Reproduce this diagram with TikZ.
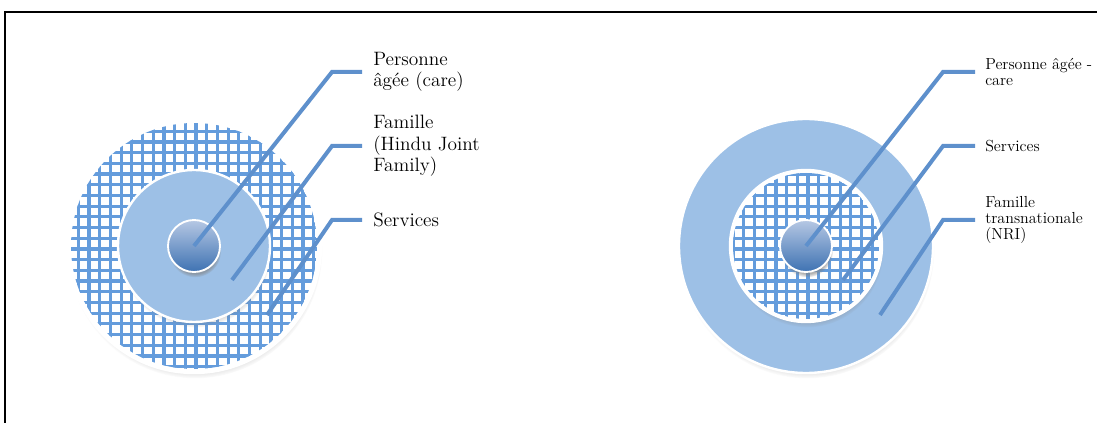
\documentclass[tikz,border=0pt]{standalone}
\usetikzlibrary{shadows,positioning,calc}
\definecolor{ringblue}{RGB}{157,192,230}
\definecolor{gridblue}{RGB}{100,156,220}
\definecolor{leadblue}{RGB}{94,144,204}
\definecolor{coretop}{RGB}{182,200,228}
\definecolor{corebot}{RGB}{62,114,178}
\newcommand{\bigtxt}{\fontsize{14.5}{16}\selectfont}
\newcommand{\smalltxt}{\fontsize{12}{12.2}\selectfont}
% grid of lines clipped to a disc: centre, radius (px)
\newcommand{\hatchdisc}[2]{%
  \begin{scope}
    \clip (#1) circle[radius=#2];
    \foreach \k in {-12,...,12}{
      \draw[gridblue,line width=2.4pt] ($(#1)+(\k*10.7+2,-#2)$) -- ($(#1)+(\k*10.7+2,#2)$);
      \draw[gridblue,line width=2.4pt] ($(#1)+(-#2,\k*10.7+3)$) -- ($(#1)+(#2,\k*10.7+3)$);}
  \end{scope}}
\begin{document}
\begin{tikzpicture}[x=0.75pt,y=-0.75pt,
  ring/.style={circle,draw=white,line width=1.8pt,inner sep=0pt},
  shade/.style={circular drop shadow={shadow xshift=0.8pt,shadow yshift=-4pt,opacity=0.6,shadow scale=1.0}},
  plain/.style={ring,fill=ringblue},
  blank/.style={ring,fill=white},
  core/.style={circle,draw=white,line width=1.4pt,inner sep=0pt,
    top color=coretop,bottom color=corebot,minimum size=39pt},
  lead/.style={leadblue,line width=3pt},
  lbl/.style={anchor=west,align=left,inner sep=0pt}]
\useasboundingbox (0,0) rectangle (1097,423);
% frame
\draw[line width=1.5pt] (5,423) -- (5,12) -- (1097,12);
% LEFT: hindu joint family
\node[blank,shade,minimum size=190.5pt] (lout) at (194,246) {};
\hatchdisc{lout.center}{123}
\node[plain,shade,minimum size=114pt] (lmid) at (194,246) {};
\node[core,shade] (lc) at (194,246) {};
\coordinate (lkA) at (332,72);  \coordinate (leA) at (362,72);
\coordinate (lsB) at (232,280); \coordinate (lkB) at (332,146); \coordinate (leB) at (362,146);
\coordinate (lsC) at (267,315); \coordinate (lkC) at (332,220); \coordinate (leC) at (362,220);
\draw[lead] (lc.center) -- (lkA) -- (leA);
\draw[lead] (lsB) -- (lkB) -- (leB);
\draw[lead] (lsC) -- (lkC) -- (leC);
\node[lbl,font=\bigtxt,right=11*0.75pt of leA] (ltA) {Personne\\âgée (care)};
\node[lbl,font=\bigtxt,right=11*0.75pt of leB] (ltB) {Famille\\(Hindu Joint\\Family)};
\node[lbl,font=\bigtxt,right=11*0.75pt of leC] (ltC) {Services};
% RIGHT: transnational family
\node[plain,shade,minimum size=190.5pt] (rout) at (806,246) {};
\node[blank,shade,minimum size=114pt] (rmid) at (806,246) {};
\hatchdisc{rmid.center}{73}
\node[core,shade] (rc) at (806,246) {};
\coordinate (rkA) at (943,72);  \coordinate (reA) at (975,72);
\coordinate (rsB) at (843,280); \coordinate (rkB) at (943,146); \coordinate (reB) at (975,146);
\coordinate (rsC) at (880,315); \coordinate (rkC) at (943,220); \coordinate (reC) at (975,220);
\draw[lead] (rc.center) -- (rkA) -- (reA);
\draw[lead] (rsB) -- (rkB) -- (reB);
\draw[lead] (rsC) -- (rkC) -- (reC);
\node[lbl,font=\smalltxt,right=10*0.75pt of reA] (rtA) {Personne âgée -\\care};
\node[lbl,font=\smalltxt,right=10*0.75pt of reB] (rtB) {Services};
\node[lbl,font=\smalltxt,right=10*0.75pt of reC] (rtC) {Famille\\transnationale\\(NRI)};
\end{tikzpicture}
\end{document}
